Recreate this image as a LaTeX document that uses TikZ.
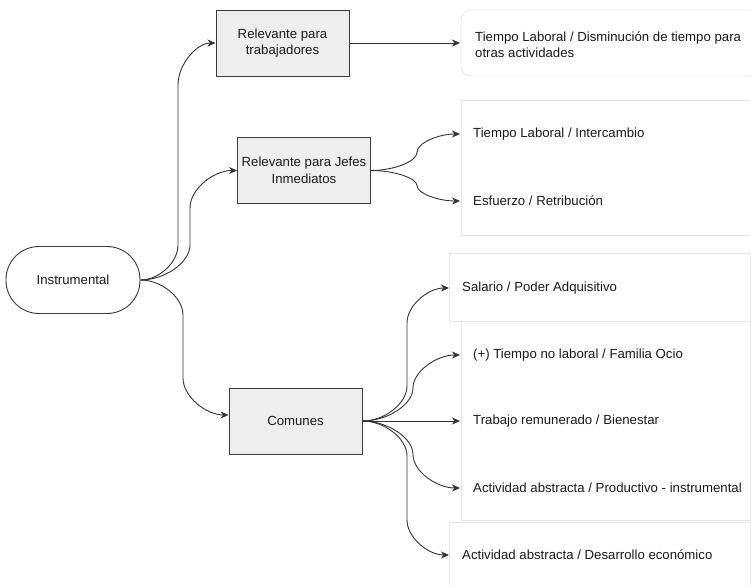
\documentclass[tikz,border=0pt]{standalone}
\usepackage{fontspec}
\setmainfont{Liberation Sans}
\usetikzlibrary{arrows.meta}
\definecolor{boxfill}{RGB}{238,238,238}
\definecolor{boxline}{RGB}{54,57,61}
\definecolor{faint}{RGB}{230,230,230}
\definecolor{txt}{RGB}{26,26,26}
\begin{document}
\begin{tikzpicture}[x=1pt,y=-1pt,
  every node/.style={font=\fontsize{13.2}{16.5}\selectfont, text=txt},
  gbox/.style={draw=boxline, fill=boxfill, line width=0.9pt, minimum width=133pt, minimum height=66pt, align=center, inner sep=2pt},
  stadium/.style={draw=boxline, fill=white, line width=0.9pt, minimum width=134pt, minimum height=67pt, rounded corners=33pt},
  rtext/.style={anchor=west, inner xsep=13pt, inner ysep=1pt, align=left},
  faintbox/.style={draw=faint, fill=white, line width=0.8pt},
  conn/.style={draw=black!80, line width=0.9pt, -{Stealth[length=8pt,width=7pt,inset=2.5pt]}},
]
\useasboundingbox (0,0) rectangle (751,585);

% faint background boxes on the right
\draw[faintbox, rounded corners=10pt] (461,10) rectangle (760,76);
\draw[faintbox] (461,100) rectangle (760,235);
\draw[faintbox] (449,253) rectangle (750,321);
\draw[faintbox] (461,321) rectangle (750,520);
\draw[faintbox] (449,522) rectangle (750,600);

% main nodes
\node[stadium] (inst) at (73,280) {Instrumental};
\node[gbox] (b1) at (282.5,43) {Relevante para\\trabajadores};
\node[gbox] (b2) at (304,170.5) {Relevante para Jefes\\Inmediatos};
\node[gbox] (b3) at (295.5,421) {Comunes};

% right text nodes
\node[rtext, inner xsep=15pt] (tA) at (460,44.5) {Tiempo Laboral / Disminución de tiempo para\\otras actividades};
\coordinate (tAin) at (460,43);
\node[rtext] (tB1) at (460,134) {Tiempo Laboral / Intercambio};
\node[rtext] (tB2) at (460,201) {Esfuerzo / Retribución};
\node[rtext] (tC) at (449,288) {Salario / Poder Adquisitivo};
\node[rtext] (tD1) at (460,355) {(+) Tiempo no laboral / Familia Ocio};
\node[rtext] (tD2) at (460,421) {Trabajo remunerado / Bienestar};
\node[rtext] (tD3) at (460,488) {Actividad abstracta / Productivo - instrumental};
\node[rtext] (tE) at (449,555) {Actividad abstracta / Desarrollo económico};

% connectors from Instrumental
\draw[conn] (inst.east) .. controls (159,280) and (178,262.5) .. (178,245) -- (178,85)
  .. controls (178,64) and (197,43) .. (b1.west);
\draw[conn] (inst.east) .. controls (165,280) and (190,262.5) .. (190,245) -- (190,208)
  .. controls (190,189) and (213.5,170.5) .. (b2.west);
\draw[conn] (inst.east) .. controls (161.5,280) and (183,297.5) .. (183,315) -- (183,378)
  .. controls (183,396.5) and (206,415) .. ([yshift=6pt]b3.west);

% from Relevante para trabajadores
\draw[conn] (b1.east) -- (tAin);

% from Jefes
\draw[conn] (b2.east) .. controls (394,170.5) and (417,161.4) .. (417,152.25)
  .. controls (417,143) and (438.5,134) .. (tB1.west);
\draw[conn] (b2.east) .. controls (394,170.5) and (417,178) .. (417,185.75)
  .. controls (417,193.4) and (438.5,201) .. (tB2.west);

% from Comunes
\draw[conn] (b3.east) .. controls (384.5,421) and (407,403.5) .. (407,386) -- (407,323)
  .. controls (407,305.5) and (428,288) .. (tC.west);
\draw[conn] (b3.east) .. controls (387.5,421) and (413,404.5) .. (413,388)
  .. controls (413,371.5) and (436.5,355) .. (tD1.west);
\draw[conn] (b3.east) -- (tD2.west);
\draw[conn] (b3.east) .. controls (387.5,421) and (413,437.75) .. (413,454.5)
  .. controls (413,471.25) and (436.5,488) .. (tD3.west);
\draw[conn] (b3.east) .. controls (384.5,421) and (407,438.5) .. (407,456) -- (407,520)
  .. controls (407,537.5) and (428,555) .. (tE.west);
\end{tikzpicture}
\end{document}
